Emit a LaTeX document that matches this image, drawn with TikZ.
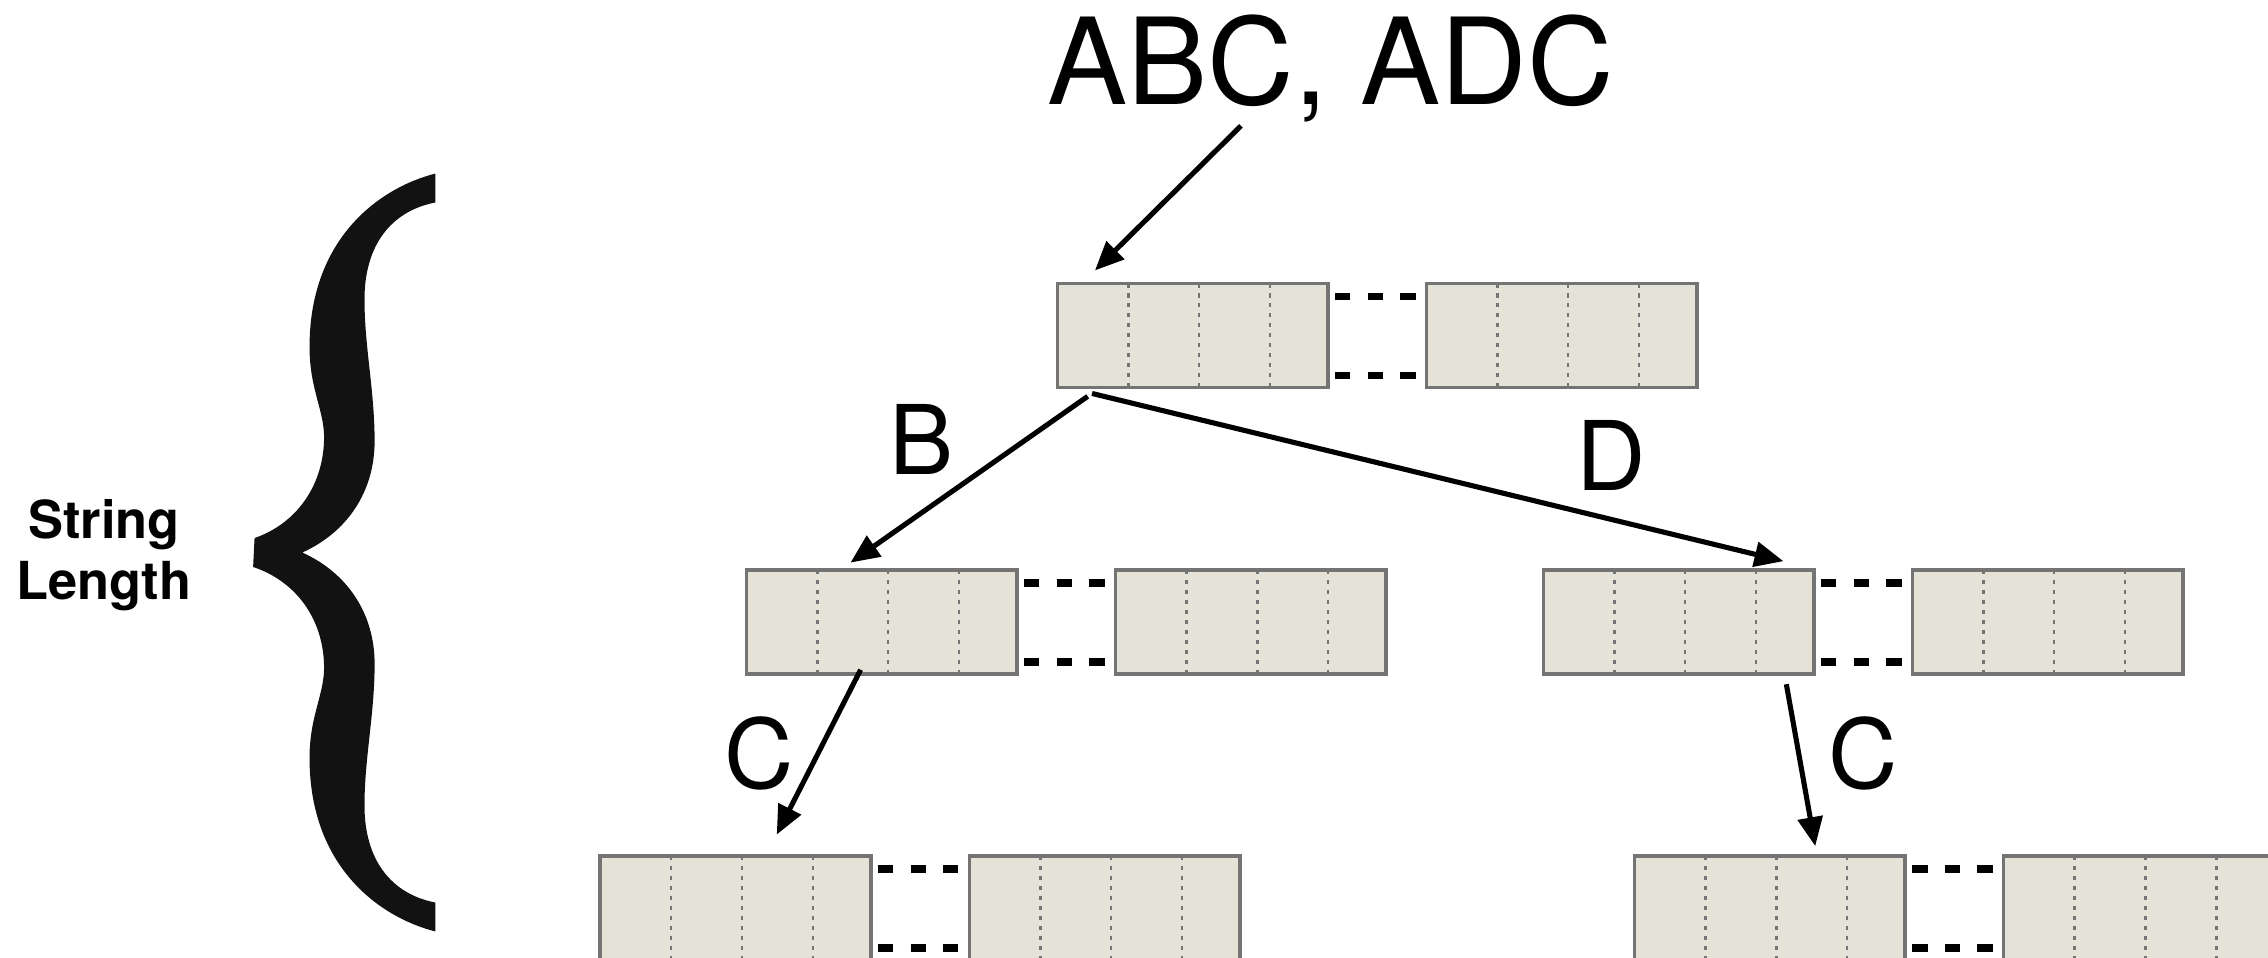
\documentclass[tikz,border=0pt]{standalone}
\usepackage{fontspec}
\setmainfont{TeX Gyre Heros}
\usetikzlibrary{calc,arrows.meta,positioning}

\definecolor{cellfill}{HTML}{E5E3D7}
\definecolor{cellline}{HTML}{747474}

\tikzset{
  cell/.style={draw=cellline, fill=cellfill, line width=0.7pt,
    minimum width=1.87cm, minimum height=0.72cm, inner sep=0pt, outer sep=0pt},
  divider/.style={cellline, line width=0.5pt, dash pattern=on 0.028cm off 0.041cm},
  ellipsis/.style={black, line width=1.5pt, dash pattern=on 0.105cm off 0.12cm},
  edge/.style={black, line width=1pt, -{Triangle[length=0.2cm,width=0.17cm]}},
  letter/.style={font=\fontsize{18.9}{22}\selectfont, inner sep=0pt, anchor=base},
}

\begin{document}
\begin{tikzpicture}[x=0.01cm, y=-0.01cm]
  \useasboundingbox (0,0) rectangle (1568,662);

  % big curly brace on the left
  \fill[black!93] (301,120) .. controls (262,130) and (214,165) .. (214,240)
    .. controls (214,270) and (225,285) .. (224,305)
    .. controls (223,336) and (205,362) .. (176,372)
    -- (175,392)
    .. controls (205,402) and (223,428) .. (224,459)
    .. controls (225,479) and (214,494) .. (214,524)
    .. controls (214,599) and (262,634) .. (301,644)
    -- (301,624)
    .. controls (270,618) and (252,594) .. (252,557)
    .. controls (252,524) and (259,494) .. (259,459)
    .. controls (259,424) and (240,396) .. (209,382)
    .. controls (240,368) and (259,340) .. (259,305)
    .. controls (259,270) and (252,240) .. (252,207)
    .. controls (252,170) and (270,146) .. (301,140)
    -- cycle;
  \node[font=\fontsize{10.3}{12}\selectfont\bfseries, align=center] (depth) at (72,384) {String\\Length};

  \node[font=\fontsize{23.6}{28}\selectfont, inner sep=0pt, anchor=base] (title) at (920,72) {ABC, ADC};

  % each trie node: two blocks of cells with dashes between them
  \foreach \nm/\px/\py in {root/731/196, midL/516/394, midR/1067/394, botL/415/592, botR/1130/592} {
    \node[cell, anchor=north west] (\nm-l) at (\px,\py) {};
    \node[cell, right=0.68cm of \nm-l] (\nm-r) {};
    \foreach \side in {l,r}
      \foreach \off in {0.49,0.98,1.47}
        \draw[divider] ([xshift=\off cm]\nm-\side.north west) -- ([xshift=\off cm]\nm-\side.south west);
    \draw[ellipsis] ([shift={(0.05cm,-0.09cm)}]\nm-l.north east) -- ([shift={(-0.07cm,-0.09cm)}]\nm-r.north west);
    \draw[ellipsis] ([shift={(0.05cm,0.085cm)}]\nm-l.south east) -- ([shift={(-0.07cm,0.085cm)}]\nm-r.south west);
  }

  % edges
  \draw[edge] ($(title.base)+(-62,15)$) -- ($(root-l.north west)+(26,-9)$);
  \draw[edge] ($(root-l.south west)+(21,6)$) -- ($(midL-l.north west)+(72,-5)$);
  \draw[edge] ($(root-l.south west)+(24,4)$) -- ($(midR-l.north west)+(166,-6)$);
  \draw[edge] ($(midL-l.south west)+(79,-3)$) -- ($(botL-l.north west)+(122,-15)$);
  \draw[edge] ($(midR-l.south west)+(168,7)$) -- ($(botR-l.north west)+(125,-7)$);

  \node[letter] (lblB) at (637,328) {B};
  \node[letter] (lblD) at (1114,339) {D};
  \node[letter] (lblCl) at (525,545) {C};
  \node[letter] (lblCr) at (1288,545) {C};
\end{tikzpicture}
\end{document}
